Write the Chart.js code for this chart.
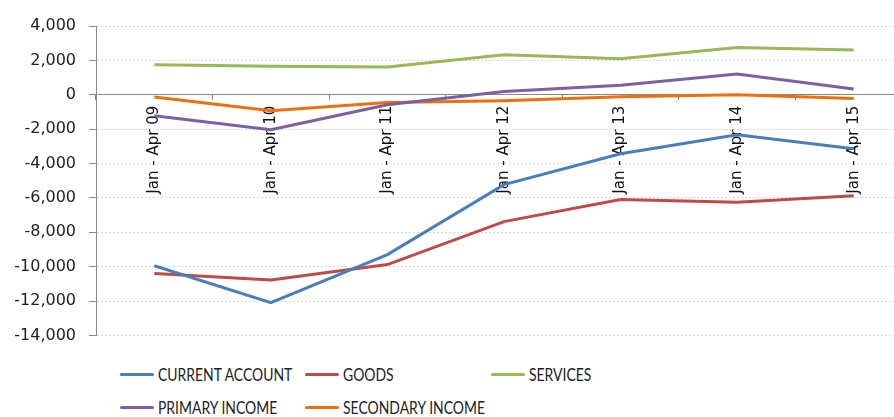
<!DOCTYPE html>
<html>
<head>
<meta charset="utf-8">
<script src="https://cdn.jsdelivr.net/npm/chart.js@4.4.1/dist/chart.umd.min.js"></script>
<style>
  html, body { margin: 0; padding: 0; background: #fff; overflow: hidden; }
  #wrap { position: relative; width: 912px; height: 358px; }
  #legend { position: absolute; left: 0; top: 364px; width: 894px; height: 60px;
            font-family: Lato, sans-serif; font-size: 17px; color: #222; }
  .item { position: absolute; display: flex; align-items: center; white-space: nowrap; }
  .swatch { width: 34px; height: 3px; border-radius: 2px; margin-right: 4px; }
  .label { display: inline-block; transform: scaleX(0.82); transform-origin: left center; }
</style>
</head>
<body>
<div id="wrap"><canvas id="chart"></canvas></div>
<div id="legend"></div>
<script>
const periods = ['Jan - Apr 09', 'Jan - Apr 10', 'Jan - Apr 11', 'Jan - Apr 12', 'Jan - Apr 13', 'Jan - Apr 14', 'Jan - Apr 15'];
const yTicks = [4000, 2000, 0, -2000, -4000, -6000, -8000, -10000, -12000, -14000];

const currentAccount = [-9950, -12100, -9300, -5230, -3430, -2330, -3140];
const goods = [-10400, -10780, -9880, -7380, -6100, -6260, -5870];
const services = [1745, 1660, 1610, 2330, 2090, 2750, 2600];
const primaryIncome = [-1220, -2035, -580, 190, 560, 1200, 330];
const secondaryIncome = [-135, -930, -445, -350, -116, 0, -215];

const seriesNames = ['CURRENT ACCOUNT', 'GOODS', 'SERVICES', 'PRIMARY INCOME', 'SECONDARY INCOME'];
const seriesData = [currentAccount, goods, services, primaryIncome, secondaryIncome];
const seriesColors = ['#4a7ebb', '#be4b48', '#98b954', '#7d60a0', '#ec7010'];

const datasets = seriesNames.map((name, i) => ({
    label: name,
    data: seriesData[i],
    borderColor: seriesColors[i],
    backgroundColor: seriesColors[i],
    borderWidth: 3,
    pointRadius: 0,
    tension: 0
}));

new Chart(document.getElementById('chart'), {
    type: 'line',
    data: { labels: periods, datasets: datasets },
    options: {
        responsive: true, maintainAspectRatio: false, animation: false,
        layout: { padding: { top: 26, bottom: 14, left: 0, right: 0 } },
        plugins: { legend: { display: false }, tooltip: { enabled: false } },
        scales: {
            x: {
                position: { y: 0 },
                offset: true,
                grid: { offset: true, drawOnChartArea: false, drawTicks: true, tickLength: 5, color: '#868686' },
                border: { display: true, color: '#868686', width: 1 },
                ticks: { color: '#111', font: { family: '"DejaVu Sans"', size: 15 }, minRotation: 90, maxRotation: 90, autoSkip: false, padding: 6 },
                afterFit: s => { s.height = 0; }
            },
            y: {
                min: -14000, max: 4000,
                afterFit: s => { s.width = 96; },
                afterBuildTicks: s => { s.ticks = yTicks.map(v => ({ value: v })); },
                grid: { color: '#d9d9d9', tickColor: '#868686', tickLength: 7, tickBorderDash: [] },
                border: { display: true, color: '#868686', width: 1, dash: [2, 2] },
                ticks: {
                    color: '#222', font: { family: '"DejaVu Sans"', size: 16 }, padding: 13,
                    callback: v => v.toLocaleString('en-US')
                }
            }
        }
    }
});

// legend laid out in three columns like the original
const legendPos = [[120, 0], [305, 0], [491, 0], [120, 33], [305, 33]];
const legend = document.getElementById('legend');
seriesNames.forEach((name, i) => {
    const item = document.createElement('div');
    item.className = 'item';
    item.style.left = legendPos[i][0] + 'px';
    item.style.top = legendPos[i][1] + 'px';
    const sw = document.createElement('span');
    sw.className = 'swatch';
    sw.style.background = seriesColors[i];
    const txt = document.createElement('span');
    txt.className = 'label';
    txt.textContent = name;
    item.appendChild(sw);
    item.appendChild(txt);
    legend.appendChild(item);
});
</script>
</body>
</html>
